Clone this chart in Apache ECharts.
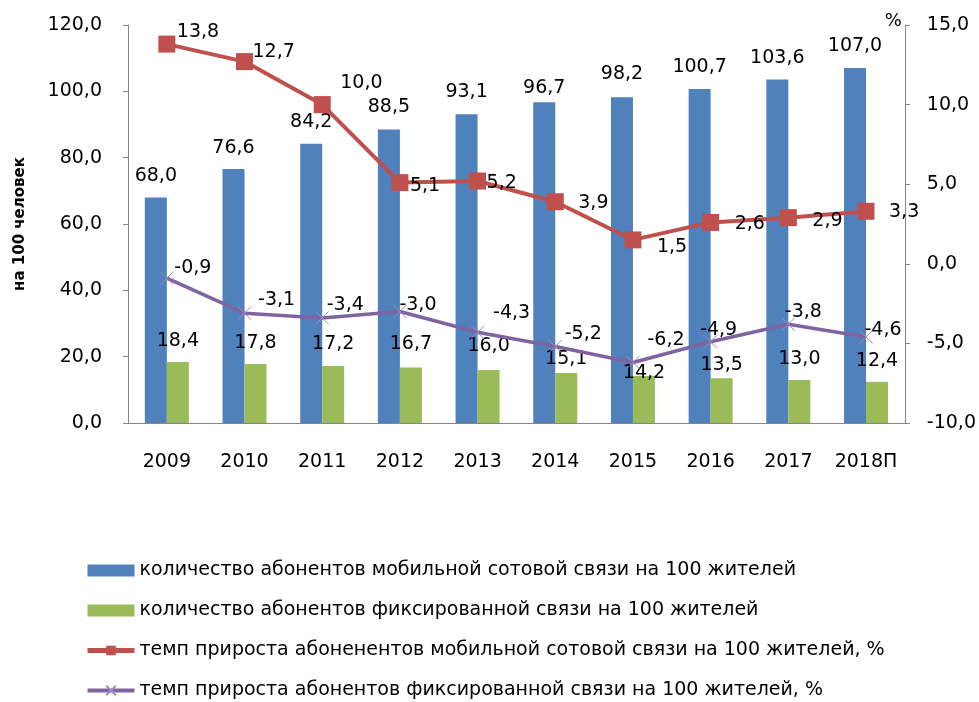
<!DOCTYPE html>
<html>
<head>
<meta charset="utf-8">
<script src="https://cdn.jsdelivr.net/npm/echarts@6/dist/echarts.min.js"></script>
<style>
    html, body { margin: 0; padding: 0; background: #fff; }
    #chart { width: 979px; height: 702px; }
</style>
</head>
<body>
<div id="chart"></div>
<script>
// данные графика
let years = ['2009', '2010', '2011', '2012', '2013', '2014', '2015', '2016', '2017', '2018П']
let mobileCount = [68.0, 76.6, 84.2, 88.5, 93.1, 96.7, 98.2, 100.7, 103.6, 107.0]
let fixedCount = [18.4, 17.8, 17.2, 16.7, 16.0, 15.1, 14.2, 13.5, 13.0, 12.4]
let mobileGrowth = [13.8, 12.7, 10.0, 5.1, 5.2, 3.9, 1.5, 2.6, 2.9, 3.3]
let fixedGrowth = [-0.9, -3.1, -3.4, -3.0, -4.3, -5.2, -6.2, -4.9, -3.8, -4.6]
let seriesNames = [
    'количество абонентов мобильной сотовой связи на 100 жителей',
    'количество абонентов фиксированной связи на 100 жителей',
    'темп прироста абоненентов мобильной сотовой связи на 100 жителей, %',
    'темп прироста абонентов фиксированной связи на 100 жителей, %'
]

function fmt(v) {
    return Number(v).toFixed(1).replace('.', ',')
}

let font = 'DejaVu Sans'
let fs = 19
let labelStyle = {
    show: true,
    color: '#000',
    fontFamily: font,
    fontSize: fs,
    formatter: p => fmt(p.value)
}

// сдвиги подписей как в исходной диаграмме (Excel разносит их вручную)
let redShift = [[10, -12], [8, -10], [18, -22], [10, 3], [9, 2], [23, 1], [24, 7], [24, 2], [24, 3], [23, 1]]
let violetShift = [[7, -10], [13, -13], [4, -13], [-1, -6], [15, -19], [9, -13], [14, -22], [-11, -12], [-4, -12], [-2, -7]]
let blueDist = [12, 11, 12, 13, 13, 5, 14, 12, 12, 13]
let greenDist = [11, 11, 12, 14, 14, 4, -7, 4, 11, 11]

function lineData(values, shift, half) {
    return values.map((v, i) => ({
        value: v,
        label: { offset: [shift[i][0] - half, shift[i][1]] }
    }))
}
function barData(values, dist) {
    return values.map((v, i) => ({
        value: v,
        label: { distance: dist[i] }
    }))
}

let myChart = echarts.init(document.getElementById('chart'))
let option = {
    backgroundColor: '#fff',
    animation: false,
    textStyle: { fontFamily: font },
    grid: {
        left: 128,
        right: 73,
        top: 25,
        height: 398
    },
    legend: {
        orient: 'vertical',
        left: 85,
        top: 561,
        padding: 0,
        width: 890,
        height: 180,
        itemWidth: 47,
        itemHeight: 12,
        itemGap: 21,
        textStyle: { color: '#000', fontSize: fs, fontFamily: font },
        data: [
            { name: seriesNames[0], icon: 'rect' },
            { name: seriesNames[1], icon: 'rect' },
            { name: seriesNames[2], lineStyle: { width: 5 } },
            { name: seriesNames[3], lineStyle: { width: 4 } }
        ]
    },
    xAxis: {
        type: 'category',
        data: years,
        axisLine: { lineStyle: { color: '#868686' } },
        axisTick: { show: false },
        axisLabel: { color: '#000', fontSize: fs, fontFamily: font, margin: 30, interval: 0 }
    },
    yAxis: [
        {
            type: 'value',
            min: 0,
            max: 120,
            interval: 20,
            name: 'на 100 человек',
            nameLocation: 'middle',
            nameGap: 100,
            nameTextStyle: { color: '#000', fontSize: 15, fontWeight: 'bold', fontFamily: font },
            splitLine: { show: false },
            axisLine: { show: true, lineStyle: { color: '#868686' } },
            axisTick: { show: true, length: 5, lineStyle: { color: '#868686' } },
            axisLabel: { color: '#000', fontSize: fs, fontFamily: font, margin: 26, formatter: fmt }
        },
        {
            type: 'value',
            min: -10,
            max: 15,
            interval: 5,
            name: '%',
            nameLocation: 'end',
            nameGap: 4,
            nameTextStyle: { color: '#000', fontSize: 18, fontFamily: font, align: 'right', verticalAlign: 'middle', padding: [0, 3, 0, 0] },
            splitLine: { show: false },
            axisLine: { show: true, lineStyle: { color: '#868686' } },
            axisTick: { show: true, length: 5, lineStyle: { color: '#868686' } },
            axisLabel: { color: '#000', fontSize: fs, fontFamily: font, margin: 22, formatter: fmt }
        }
    ],
    series: [
        {
            name: seriesNames[0],
            type: 'bar',
            barWidth: 22,
            barGap: '0%',
            itemStyle: { color: '#4F81BD' },
            label: Object.assign({}, labelStyle, { position: 'top' }),
            data: barData(mobileCount, blueDist)
        },
        {
            name: seriesNames[1],
            type: 'bar',
            barWidth: 22,
            itemStyle: { color: '#9BBB59' },
            label: Object.assign({}, labelStyle, { position: 'top' }),
            data: barData(fixedCount, greenDist)
        },
        {
            name: seriesNames[2],
            type: 'line',
            yAxisIndex: 1,
            symbol: 'rect',
            symbolSize: 17,
            itemStyle: { color: '#C0504D' },
            lineStyle: { color: '#C0504D', width: 4 },
            label: Object.assign({}, labelStyle, { position: 'right', distance: 0 }),
            data: lineData(mobileGrowth, redShift, 8.5)
        },
        {
            name: seriesNames[3],
            type: 'line',
            yAxisIndex: 1,
            symbol: 'path://M0,0L10,10M10,0L0,10',
            symbolSize: 13,
            itemStyle: { color: 'rgba(0,0,0,0)', borderColor: '#9E8CC0', borderWidth: 1 },
            lineStyle: { color: '#8064A2', width: 3.5 },
            label: Object.assign({}, labelStyle, { position: 'right', distance: 0 }),
            data: lineData(fixedGrowth, violetShift, 6.5)
        }
    ]
}
myChart.setOption(option)
</script>
</body>
</html>
